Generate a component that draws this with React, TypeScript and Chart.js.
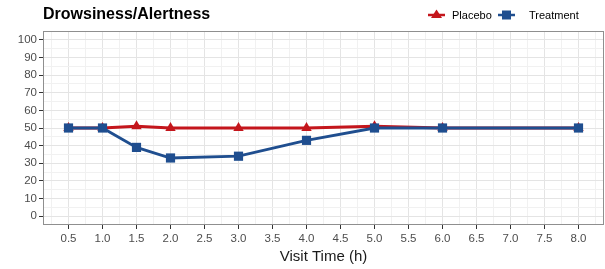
import React, { useEffect, useRef } from "react";
import { Chart, registerables } from "chart.js";

Chart.register(...registerables);

const chartTitle = "Drowsiness/Alertness";
const xAxisTitle = "Visit Time (h)";
const visitTimes = [0.5, 1.0, 1.5, 2.0, 3.0, 4.0, 5.0, 6.0, 8.0];
const placeboValues = [50, 50, 51, 50, 50, 50, 51, 50, 50];
const treatmentValues = [50, 50, 39, 33, 34, 43, 50, 50, 50];
const xTickLabels = ["0.5", "1.0", "1.5", "2.0", "2.5", "3.0", "3.5", "4.0", "4.5", "5.0", "5.5", "6.0", "6.5", "7.0", "7.5", "8.0"];
const yTickLabels = ["0", "10", "20", "30", "40", "50", "60", "70", "80", "90", "100"];
const seriesNames = ["Placebo", "Treatment"];
const seriesColors = ["#C4161C", "#1F4E8F"];

const FONT = "'Liberation Sans', Arial, sans-serif";

export default function App() {
  const ref = useRef<HTMLCanvasElement>(null);

  useEffect(() => {
    if (!ref.current) return;
    const xMajor = xTickLabels.map(Number);
    const yMajor = yTickLabels.map(Number);

    const decorPlugin = {
      id: "decor",
      afterDatasetsDraw(chart: any) {
        const { ctx, chartArea } = chart;
        ctx.save();
        ctx.strokeStyle = "#8f8f8f";
        ctx.lineWidth = 1;
        ctx.strokeRect(
          Math.round(chartArea.left) + 0.5,
          Math.round(chartArea.top) + 0.5,
          Math.round(chartArea.right - chartArea.left) - 1,
          Math.round(chartArea.bottom - chartArea.top) - 1
        );
        ctx.restore();
      },
      afterDraw(chart: any) {
        const { ctx } = chart;
        ctx.save();
        ctx.fillStyle = "#000";
        ctx.font = `bold 16px ${FONT}`;
        ctx.textBaseline = "middle";
        ctx.textAlign = "left";
        ctx.fillText(chartTitle, 43, 15);

        // legend
        const items = [
          { x: 428, tx: 452, style: "triangle" },
          { x: 498, tx: 529, style: "rect" },
        ];
        items.forEach((it, i) => {
          const c = seriesColors[i];
          ctx.strokeStyle = c;
          ctx.fillStyle = c;
          ctx.lineWidth = 2.5;
          ctx.beginPath();
          ctx.moveTo(it.x, 15);
          ctx.lineTo(it.x + 17, 15);
          ctx.stroke();
          const cx = it.x + 8.5;
          ctx.beginPath();
          if (it.style === "triangle") {
            ctx.moveTo(cx, 9.5);
            ctx.lineTo(cx + 5.5, 18);
            ctx.lineTo(cx - 5.5, 18);
            ctx.closePath();
          } else {
            ctx.rect(cx - 4.5, 10.5, 9, 9);
          }
          ctx.fill();
          ctx.fillStyle = "#000";
          ctx.font = `11px ${FONT}`;
          ctx.fillText(seriesNames[i], it.tx, 15.5);
        });
        ctx.restore();
      },
    };

    const isMajorX = (v: number) => xMajor.some((m) => Math.abs(m - v) < 1e-6);
    const isMajorY = (v: number) => yMajor.some((m) => Math.abs(m - v) < 1e-6);

    const chart = new Chart(ref.current, {
      type: "line",
      data: {
        datasets: [
          {
            label: seriesNames[0],
            data: visitTimes.map((t, i) => ({ x: t, y: placeboValues[i] })),
            borderColor: seriesColors[0],
            backgroundColor: seriesColors[0],
            borderWidth: 2.8,
            pointStyle: "triangle",
            pointRadius: 6,
            pointBorderWidth: 0,
            order: 1,
          },
          {
            label: seriesNames[1],
            data: visitTimes.map((t, i) => ({ x: t, y: treatmentValues[i] })),
            borderColor: seriesColors[1],
            backgroundColor: seriesColors[1],
            borderWidth: 2.8,
            pointStyle: "rect",
            pointRadius: 6.5,
            pointBorderWidth: 0,
            order: 0,
          },
        ],
      },
      options: {
        responsive: false,
        animation: false,
        layout: { autoPadding: false, padding: { top: 31, right: 1, left: 0, bottom: 0 } },
        plugins: {
          legend: { display: false },
          title: { display: false },
          tooltip: { enabled: false },
        },
        scales: {
          x: {
            type: "linear",
            min: 0.125,
            max: 8.375,
            afterBuildTicks(scale: any) {
              const t = [];
              for (let k = 1; k <= 33; k++) t.push({ value: k * 0.25 });
              scale.ticks = t;
            },
            afterFit(scale: any) {
              scale.height = 44;
              scale.paddingLeft = 0;
              scale.paddingRight = 0;
            },
            ticks: {
              autoSkip: false,
              maxRotation: 0,
              padding: 3,
              color: "#4D4D4D",
              font: { family: FONT, size: 11.5 },
              callback(v: any) {
                const idx = xMajor.findIndex((m) => Math.abs(m - v) < 1e-6);
                return idx >= 0 ? xTickLabels[idx] : "";
              },
            },
            grid: {
              drawTicks: true,
              tickLength: 4,
              lineWidth: 1,
              color: (c: any) => (isMajorX(c.tick?.value) ? "#E4E4E4" : "#F1F1F1"),
              tickColor: (c: any) => (isMajorX(c.tick?.value) ? "#333" : "rgba(0,0,0,0)"),
            },
            border: { display: false },
            title: {
              display: true,
              text: xAxisTitle,
              color: "#1a1a1a",
              font: { family: FONT, size: 15 },
              padding: { top: 0, bottom: 3 },
            },
          },
          y: {
            type: "linear",
            min: -5,
            max: 105,
            afterBuildTicks(scale: any) {
              const t = [];
              for (let k = 0; k <= 20; k++) t.push({ value: k * 5 });
              scale.ticks = t;
            },
            afterFit(scale: any) {
              scale.width = 43;
            },
            ticks: {
              autoSkip: false,
              padding: 2,
              color: "#4D4D4D",
              font: { family: FONT, size: 11.5 },
              callback(v: any) {
                const idx = yMajor.findIndex((m) => Math.abs(m - v) < 1e-6);
                return idx >= 0 ? yTickLabels[idx] : "";
              },
            },
            grid: {
              drawTicks: true,
              tickLength: 4,
              lineWidth: 1,
              color: (c: any) => (isMajorY(c.tick?.value) ? "#E4E4E4" : "#F1F1F1"),
              tickColor: (c: any) => (isMajorY(c.tick?.value) ? "#333" : "rgba(0,0,0,0)"),
            },
            border: { display: false },
          },
        },
      } as any,
      plugins: [decorPlugin],
    });
    return () => chart.destroy();
  }, []);

  return (
    <div style={{ position: "absolute", left: 0, top: 0, width: 605, height: 269, background: "#fff" }}>
      <canvas ref={ref} width={605} height={269} />
    </div>
  );
}
